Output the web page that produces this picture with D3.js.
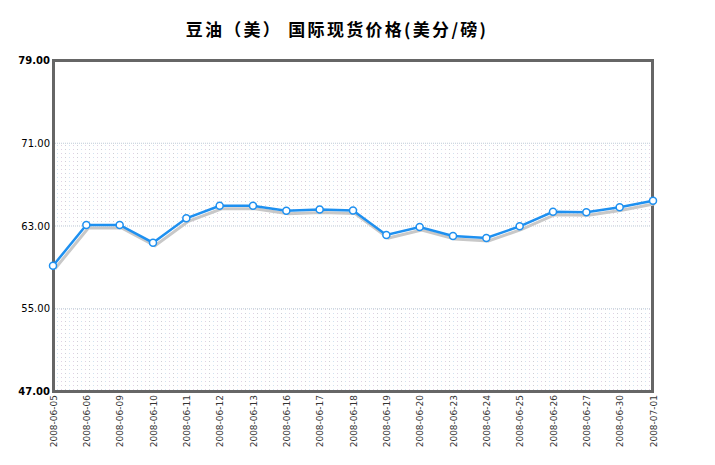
<!DOCTYPE html>
<html><head><meta charset="utf-8">
<script src="https://cdn.jsdelivr.net/npm/d3@7"></script>
<style>body{margin:0;background:#fff}svg{display:block}</style>
</head><body>
<script>
const title = "豆油（美）  国际现货价格(美分/磅)";
const dates = ["2008-06-05","2008-06-06","2008-06-09","2008-06-10","2008-06-11","2008-06-12","2008-06-13","2008-06-16","2008-06-17","2008-06-18","2008-06-19","2008-06-20","2008-06-23","2008-06-24","2008-06-25","2008-06-26","2008-06-27","2008-06-30","2008-07-01"];
const prices = [59.11,63.05,63.05,61.34,63.70,64.91,64.90,64.42,64.55,64.45,62.08,62.85,61.99,61.79,62.92,64.33,64.28,64.76,65.40];
const yTicks = [47,55,63,71,79];

const W=715,H=465;
const svg=d3.select("body").append("svg").attr("width",W).attr("height",H);
const x=d3.scalePoint().domain(dates).range([53,653]);
const y=d3.scaleLinear().domain([47,79]).range([391,60]);

const defs=svg.append("defs");
const pat=defs.append("pattern").attr("id","dots").attr("patternUnits","userSpaceOnUse")
  .attr("width",12).attr("height",4).attr("x",53).attr("y",0);
pat.append("rect").attr("x",0).attr("y",1).attr("width",1).attr("height",1).attr("fill","#cfcfd6");
pat.append("rect").attr("x",4).attr("y",1).attr("width",1).attr("height",1).attr("fill","#d2e2f0");
pat.append("rect").attr("x",8).attr("y",1).attr("width",1).attr("height",1).attr("fill","#e0d2e4");

// bands
for(let i=0;i<yTicks.length-1;i++){
  if(i%2===0){
    svg.append("rect").attr("x",55).attr("width",597)
      .attr("y",y(yTicks[i+1])).attr("height",y(yTicks[i])-y(yTicks[i+1]))
      .attr("fill","url(#dots)");
  }
}
// grid lines
svg.append("g").selectAll("line").data(yTicks.slice(1,-1)).join("line")
  .attr("x1",55).attr("x2",652).attr("y1",d=>y(d)+0.5).attr("y2",d=>y(d)+0.5)
  .attr("stroke","#c0ccd8").attr("stroke-dasharray","1,1");

// frame
svg.append("path").attr("d",`M53.5,${y(47)}V60.5H652.5V${y(47)}`).attr("fill","none").attr("stroke","#666").attr("stroke-width",3);
svg.append("line").attr("x1",52).attr("x2",654).attr("y1",y(47)+0.5).attr("y2",y(47)+0.5).attr("stroke","#666").attr("stroke-width",3);

// y labels
svg.append("g").selectAll("text").data(yTicks).join("text")
  .attr("x",50).attr("y",d=>y(d)+4).attr("text-anchor","end")
  .attr("font-family","DejaVu Sans").attr("font-size",10)
  .attr("font-weight",d=>(d===47||d===79)?"bold":"normal")
  .attr("fill","#000").text(d=>d.toFixed(2));

// x labels
svg.append("g").selectAll("text").data(dates).join("text")
  .attr("transform",d=>`translate(${x(d)+3.5},395) rotate(-90)`)
  .attr("text-anchor","end").attr("font-family","DejaVu Sans").attr("font-size",9)
  .attr("fill","#333").text(d=>d);

// shadow + line
const line=d3.line().x((d,i)=>x(dates[i])).y(d=>y(d));
svg.append("path").datum(prices).attr("d",line).attr("transform","translate(2,3)")
  .attr("fill","none").attr("stroke","#c8c8c8").attr("stroke-width",3);
svg.append("path").datum(prices).attr("d",line)
  .attr("fill","none").attr("stroke","#1e90f0").attr("stroke-width",2.5);
svg.append("g").selectAll("circle").data(prices).join("circle")
  .attr("cx",(d,i)=>x(dates[i])).attr("cy",d=>y(d)).attr("r",3.5)
  .attr("fill","#fff").attr("stroke","#1e90f0").attr("stroke-width",1.5);

svg.append("text").attr("x",337).attr("y",36).attr("text-anchor","middle")
  .attr("font-family","Noto Sans CJK SC").attr("font-weight","bold").attr("font-size",17)
  .attr("letter-spacing",2.3)
  .attr("fill","#000").text(title);
</script>
</body></html>
